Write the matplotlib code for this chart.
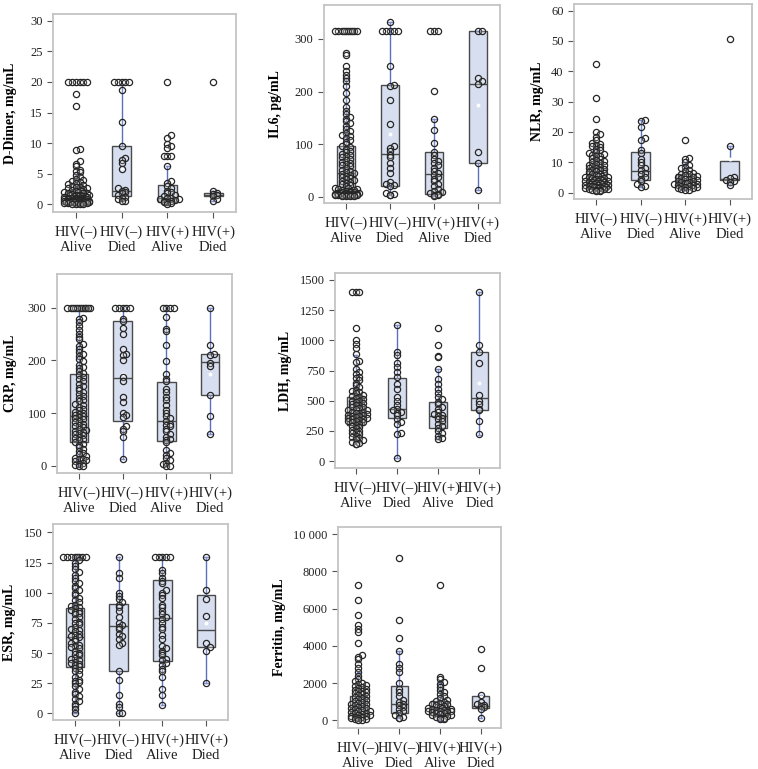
import matplotlib
matplotlib.use("Agg")
import matplotlib.pyplot as plt
import numpy as np

plt.rcParams['font.family'] = ['Liberation Serif', 'DejaVu Serif']

W, H = 758, 769
groups = ["HIV(–)\nAlive", "HIV(–)\nDied", "HIV(+)\nAlive", "HIV(+)\nDied"]

# ---- D-Dimer ----
dd_g1 = [20, 20, 20, 20, 20, 20, 18, 16, 9.0, 8.8, 7.0, 6.6, 6.2, 5.6, 5.4, 5.2, 4.8, 4.5, 4.2, 4.0,
         3.8, 3.6, 3.5, 3.3, 3.2, 3.0, 2.9, 2.8, 2.7, 2.6, 2.5, 2.4, 2.3, 2.2, 2.1, 2.0, 2.0, 1.9, 1.8,
         1.8, 1.7, 1.6, 1.6, 1.5, 1.5, 1.4, 1.4, 1.3, 1.3, 1.2, 1.2, 1.1, 1.1, 1.0, 1.0, 1.0, 0.9, 0.9,
         0.9, 0.8, 0.8, 0.8, 0.8, 0.7, 0.7, 0.7, 0.7, 0.6, 0.6, 0.6, 0.6, 0.5, 0.5, 0.5, 0.5, 0.5, 0.4,
         0.4, 0.4, 0.4, 0.4, 0.3, 0.3, 0.3, 0.3, 0.3, 0.2, 0.2, 0.2, 0.2, 0.2, 0.1, 0.1, 0.1, 0.1]
dd_g2 = [20, 20, 20, 20, 20, 18.7, 13.5, 9.5, 7.5, 7.2, 6.8, 5.8, 2.6, 2.4, 2.2, 2.0, 1.8, 1.5, 1.2,
         1.0, 0.8, 0.6, 0.5]
dd_g3 = [20, 11.3, 10.9, 9.9, 9.6, 9.2, 7.9, 7.9, 7.9, 6.2, 3.8, 3.5, 3.0, 2.6, 2.2, 2.0, 1.8, 1.5,
         1.3, 1.1, 1.0, 0.9, 0.8, 0.7, 0.6, 0.5, 0.4, 0.3, 0.2, 0.1]
dd_g4 = [20, 2.2, 1.9, 1.7, 1.5, 1.3, 0.8, 0.6]
# q1, median, q3, whisker low, whisker high, mean
dd_box = [(0.5, 1.0, 2.3, 0.1, 5.0, 2.4), (1.3, 2.1, 9.5, 0.5, 19.5, 6.0),
          (0.4, 1.0, 3.2, 0.1, 6.2, 3.0), (1.3, 1.6, 1.9, 0.6, 2.2, 3.9)]

# ---- IL6 ----
il6_g1 = [315, 315, 315, 315, 315, 315, 315, 315, 315, 315, 273, 270, 248, 240, 232, 225, 220, 210,
          197, 185, 170, 163, 157, 152, 148, 145, 140, 135, 130, 126, 122, 118, 115, 112, 108, 105,
          100, 97, 95, 92, 88, 85, 82, 80, 77, 75, 72, 70, 67, 65, 62, 60, 58, 55, 52, 50, 48, 46, 44,
          42, 40, 38, 36, 34, 32, 30, 28, 26, 24, 22, 20, 18, 17, 16, 15, 14, 13, 12, 11, 10, 9, 9, 8,
          8, 7, 7, 6, 6, 6, 5, 5, 5, 5, 4, 4, 4, 4, 3, 3, 3, 3, 3, 2, 2, 2, 2]
il6_g2 = [333, 315, 315, 315, 315, 315, 248, 212, 210, 185, 138, 97, 93, 88, 80, 75, 65, 55, 45, 28,
          25, 22, 20, 8, 6, 4, 3]
il6_g3 = [315, 315, 315, 202, 148, 127, 103, 85, 80, 72, 68, 65, 60, 55, 50, 45, 42, 38, 35, 30, 25,
          20, 15, 12, 10, 8, 6, 4, 3, 2]
il6_g4 = [315, 315, 225, 220, 215, 85, 65, 13]
il6_box = [(8, 45, 96, 2, 225, 70), (21, 82, 212, 3, 333, 120),
           (6, 44, 85, 2, 148, 70), (65, 215, 316, 13, 316, 175)]

# ---- NLR ----
nlr_g1 = [42.3, 31.2, 24.3, 20.0, 19.2, 18.3, 17.5, 16.5, 16.0, 15.8, 15.5, 15.0, 14.5, 14.0, 13.5,
          13.0, 12.8, 12.5, 12.2, 12.0, 11.5, 11.0, 10.8, 10.5, 10.0, 9.8, 9.5, 9.2, 9.0, 8.8, 8.5,
          8.2, 8.0, 7.8, 7.5, 7.3, 7.0, 6.8, 6.5, 6.3, 6.0, 5.8, 5.6, 5.5, 5.3, 5.1, 5.0, 4.8, 4.7,
          4.5, 4.4, 4.2, 4.1, 4.0, 3.9, 3.8, 3.6, 3.5, 3.4, 3.3, 3.2, 3.0, 2.9, 2.8, 2.7, 2.6, 2.5,
          2.4, 2.3, 2.2, 2.1, 2.0, 1.9, 1.8, 1.7, 1.6, 1.5, 1.4, 1.3, 1.2, 1.1, 1.0, 0.9, 0.8, 0.6, 0.5]
nlr_g2 = [24, 23.5, 21.5, 18, 17.5, 14, 13, 11, 10, 9, 8, 7.5, 6.5, 6, 5, 4.5, 4, 3, 2.2, 2]
nlr_g3 = [17.5, 11.5, 11.0, 10.0, 9.2, 8.5, 8.0, 7.5, 7.0, 6.5, 6.2, 6.0, 5.7, 5.5, 5.2, 5.0, 4.8,
          4.6, 4.4, 4.2, 4.0, 3.8, 3.6, 3.5, 3.3, 3.1, 3.0, 2.8, 2.6, 2.5, 2.3, 2.1, 2.0, 1.8, 1.6,
          1.4, 1.2, 1.0, 0.8]
nlr_g4 = [50.5, 15.3, 5.2, 4.8, 4.3, 4.0, 3.5, 2.5]
nlr_box = [(3.0, 5.0, 8.0, 0.5, 15.5, 6.0), (4.2, 7.2, 13.4, 2.0, 24.0, 9.8),
           (2.5, 4.0, 6.0, 0.8, 10.0, 4.6), (4.1, 4.5, 10.3, 2.5, 15.3, 11.0)]

# ---- CRP ----
crp_g1 = [300, 300, 300, 300, 300, 300, 300, 300, 300, 300, 300, 300, 280, 278, 272, 265, 258, 250,
          245, 240, 232, 228, 222, 215, 212, 208, 202, 198, 192, 188, 185, 180, 176, 172, 168, 165,
          160, 156, 152, 148, 144, 140, 136, 132, 128, 125, 122, 118, 115, 112, 108, 105, 102, 100,
          98, 96, 94, 92, 90, 88, 85, 82, 80, 78, 75, 73, 70, 68, 66, 64, 62, 60, 58, 55, 52, 50, 48,
          45, 42, 40, 36, 32, 28, 25, 22, 18, 15, 12, 12, 10, 8, 6, 4, 2, 0, 0]
crp_g2 = [300, 300, 300, 300, 300, 278, 275, 262, 250, 222, 212, 210, 200, 168, 160, 130, 120, 100,
          97, 93, 75, 70, 65, 55, 12]
crp_g3 = [300, 300, 300, 300, 282, 260, 255, 230, 198, 175, 165, 160, 145, 140, 130, 125, 115, 105,
          100, 95, 90, 85, 80, 78, 75, 70, 65, 60, 55, 50, 48, 45, 30, 25, 20, 15, 10, 5, 3, 0, 0]
crp_g4 = [300, 230, 212, 210, 195, 190, 135, 95, 60]
crp_box = [(45, 95, 174, 0, 300, 115), (85, 167, 275, 12, 300, 175),
           (47, 85, 158, 0, 300, 110), (134, 197, 212, 60, 300, 175)]

# ---- LDH ----
ldh_g1 = [1400, 1400, 1400, 1100, 1000, 970, 940, 890, 830, 820, 760, 740, 720, 700, 690, 670, 650,
          630, 610, 590, 580, 570, 560, 550, 540, 530, 520, 510, 500, 495, 490, 480, 470, 465, 460,
          450, 445, 440, 430, 425, 420, 410, 405, 400, 395, 390, 385, 380, 375, 370, 365, 360, 355,
          350, 345, 340, 335, 330, 325, 320, 310, 300, 290, 280, 270, 260, 250, 240, 230, 220, 210,
          200, 190, 180, 170, 160, 150, 145, 140]
ldh_g2 = [1130, 900, 880, 810, 780, 740, 700, 640, 600, 530, 500, 460, 430, 420, 410, 400, 380, 350,
          320, 310, 230, 220, 25]
ldh_g3 = [1100, 960, 870, 860, 760, 680, 640, 600, 560, 530, 510, 490, 470, 450, 430, 410, 390, 380,
          370, 360, 350, 330, 310, 290, 270, 250, 230, 210, 190, 180]
ldh_g4 = [1400, 960, 900, 810, 550, 500, 470, 430, 420, 330, 220]
ldh_box = [(300, 400, 530, 140, 880, 440), (354, 430, 690, 25, 1130, 520),
           (271, 370, 492, 180, 760, 420), (423, 519, 900, 215, 1400, 650)]

# ---- ESR ----
esr_g1 = [130, 130, 130, 130, 130, 130, 130, 130, 127, 125, 122, 120, 117, 115, 112, 110, 108, 106,
          104, 102, 100, 98, 96, 94, 92, 90, 89, 88, 87, 86, 85, 84, 83, 82, 80, 78, 76, 75, 74, 72,
          70, 69, 68, 66, 65, 64, 63, 62, 60, 58, 57, 56, 55, 54, 52, 50, 49, 48, 46, 45, 44, 43, 42,
          41, 40, 39, 38, 36, 35, 33, 30, 28, 27, 26, 25, 23, 20, 18, 16, 14, 12, 10, 8, 6, 4, 0]
esr_g2 = [130, 116, 112, 100, 97, 95, 92, 90, 88, 85, 80, 75, 73, 72, 70, 66, 64, 62, 58, 57, 35,
          28, 15, 8, 5, 0, 0]
esr_g3 = [130, 130, 130, 130, 130, 119, 116, 112, 110, 108, 102, 100, 98, 96, 90, 88, 85, 82, 80,
          78, 75, 72, 70, 65, 62, 56, 54, 52, 50, 48, 45, 44, 42, 40, 37, 35, 30, 20, 15, 7]
esr_g4 = [130, 102, 95, 81, 58, 55, 52, 25]
esr_box = [(38.7, 63, 87.7, 0, 130, 63), (35, 72.8, 90.8, 0, 130, 64),
           (43.7, 78.9, 110.7, 7, 130, 76), (55.4, 69, 98.3, 25, 130, 75)]

# ---- Ferritin ----
fer_g1 = [7250, 6450, 5650, 5100, 4900, 4750, 4150, 3500, 3400, 3300, 3000, 2800, 2600, 2400, 2200,
          2100, 2000, 1950, 1900, 1850, 1800, 1750, 1700, 1650, 1600, 1550, 1500, 1450, 1400, 1350,
          1300, 1250, 1200, 1150, 1100, 1050, 1000, 950, 900, 850, 800, 760, 720, 680, 640, 600, 560,
          520, 480, 440, 400, 370, 340, 310, 280, 250, 220, 190, 160, 130, 100, 80, 60, 40, 20]
fer_g2 = [8750, 5400, 4400, 3700, 3000, 2800, 2600, 2000, 1700, 1500, 1300, 1100, 1000, 900, 800,
          700, 600, 500, 400, 300, 200, 150, 100]
fer_g3 = [7250, 2350, 2200, 2050, 1950, 1800, 1650, 1500, 1400, 1300, 1200, 1100, 1050, 1000, 950,
          900, 850, 800, 760, 720, 680, 650, 620, 600, 580, 560, 540, 520, 500, 480, 450, 420, 400,
          370, 340, 300, 260, 220, 180, 150, 120, 80, 50]
fer_g4 = [3850, 2800, 1350, 1000, 900, 800, 750, 700, 600, 150]
fer_box = [(300, 700, 1300, 0, 2600, 1000), (376, 876, 1860, 100, 3700, 1500),
           (300, 600, 1054, 0, 2000, 800), (645, 750, 1320, 150, 1350, 1250)]

# panel layout: (label, groups, box stats, pixel rect l,t,r,b, ylim, yticks, ytick labels, ylabel x px)
panels = [
    ("D-Dimer, mg/mL", [dd_g1, dd_g2, dd_g3, dd_g4], dd_box, (53, 14, 236, 212), (-1.26, 31.1),
     [0, 5, 10, 15, 20, 25, 30], None, 11),
    ("IL6, pg/mL", [il6_g1, il6_g2, il6_g3, il6_g4], il6_box, (324, 5, 500, 203), (-11.4, 364.5),
     [0, 100, 200, 300], None, 275),
    ("NLR, mg/mL", [nlr_g1, nlr_g2, nlr_g3, nlr_g4], nlr_box, (574, 4, 752, 199), (-2.1, 62.2),
     [0, 10, 20, 30, 40, 50, 60], None, 537),
    ("CRP, mg/mL", [crp_g1, crp_g2, crp_g3, crp_g4], crp_box, (57, 274, 232, 473), (-13.9, 364),
     [0, 100, 200, 300], None, 10),
    ("LDH, mg/mL", [ldh_g1, ldh_g2, ldh_g3, ldh_g4], ldh_box, (335, 273, 500, 468), (-58, 1558),
     [0, 250, 500, 750, 1000, 1250, 1500], None, 286),
    ("ESR, mg/mL", [esr_g1, esr_g2, esr_g3, esr_g4], esr_box, (53, 524, 228, 720), (-5.5, 157),
     [0, 25, 50, 75, 100, 125, 150], None, 10),
    ("Ferritin, mg/mL", [fer_g1, fer_g2, fer_g3, fer_g4], fer_box, (338, 527, 501, 728), (-414, 10390),
     [0, 2000, 4000, 6000, 8000, 10000], ["0", "2000", "4000", "6000", "8000", "10 000"], 280),
]

BOX_FILL = "#d6deef"
BOX_EDGE = "#4a4a4a"
WHISK = "#5a70c0"
FRAME = "#c4c4c4"


def swarm(vals, ppy, ppx, d=3.8, maxw=12):
    # simple beeswarm: points in the same pixel row spread sideways
    vals = np.asarray(vals, float)
    bins = np.round(vals * ppy / d).astype(int)
    ncol = 2 * int(maxw // d) + 1
    offs = np.zeros(len(vals))
    count = {}
    for i in np.argsort(vals, kind="stable"):
        k = count.get(bins[i], 0)
        count[bins[i]] = k + 1
        slot = k % ncol
        j = (slot + 1) // 2 * (1 if slot % 2 else -1)
        shift = 0.5 if (k // ncol) % 2 else 0.0
        offs[i] = (j + shift) * d / ppx
    return offs


fig = plt.figure(figsize=(W / 100, H / 100), dpi=100)

for label, data, boxes, (l, t, r, b), ylim, yticks, ylabs, labx in panels:
    ax = fig.add_axes([l / W, 1 - b / H, (r - l) / W, (b - t) / H])
    ax.set_xlim(0.5, 4.5)
    ax.set_ylim(*ylim)
    ppx = (r - l) / 4.0
    ppy = (b - t) / (ylim[1] - ylim[0])

    stats = []
    for q1, med, q3, lo, hi, mean in boxes:
        stats.append(dict(q1=q1, med=med, q3=q3, whislo=lo, whishi=hi, mean=mean, fliers=[]))
    ax.bxp(stats, positions=[1, 2, 3, 4], widths=0.42, patch_artist=True, showmeans=True,
           showfliers=False,
           boxprops=dict(facecolor=BOX_FILL, edgecolor=BOX_EDGE, linewidth=1.0),
           medianprops=dict(color=BOX_EDGE, linewidth=1.0),
           whiskerprops=dict(color=WHISK, linewidth=1.0),
           capprops=dict(color=WHISK, linewidth=1.0), capwidths=0.08,
           meanprops=dict(marker="o", markersize=1.8, markerfacecolor="white",
                          markeredgecolor="white"),
           zorder=2)

    for gi, vals in enumerate(data):
        xs = gi + 1 + swarm(vals, ppy, ppx)
        ax.scatter(xs, vals, s=20, facecolors=(1, 1, 1, 0.2), edgecolors="#262626",
                   linewidths=0.9, zorder=3, clip_on=False)

    ax.set_xticks([1, 2, 3, 4])
    ax.set_xticklabels(groups, fontsize=10.5, linespacing=1.15)
    ax.set_yticks(yticks)
    if ylabs:
        ax.set_yticklabels(ylabs)
    ax.tick_params(axis="y", labelsize=9, colors="#555555", labelcolor="#222222", length=4, width=0.8)
    ax.tick_params(axis="x", colors="#555555", labelcolor="#222222", length=4, width=0.8, pad=6)
    for sp in ax.spines.values():
        sp.set_color(FRAME)
        sp.set_linewidth(1.3)
    ax.set_ylabel(label, fontsize=10, fontweight="bold", va="center")
    ax.yaxis.set_label_coords((labx - l) / (r - l), 0.5)

fig.savefig("out.png", dpi=100)
